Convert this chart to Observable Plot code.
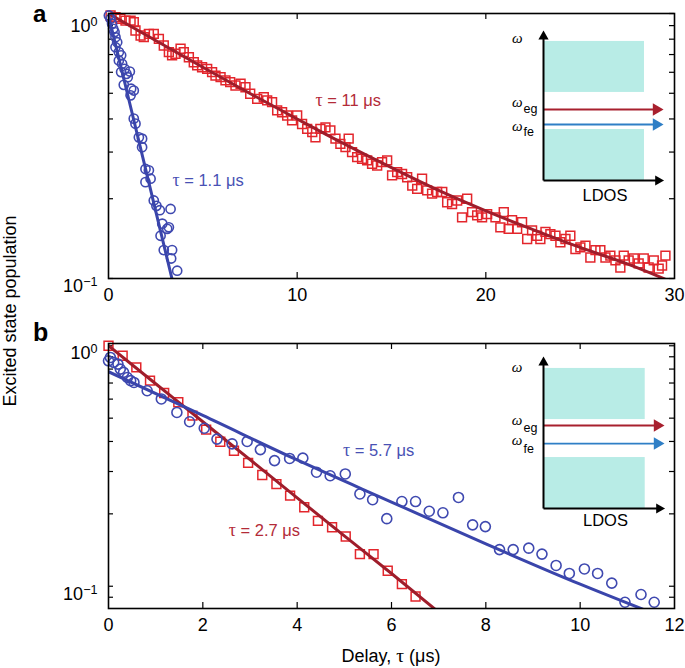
<!DOCTYPE html>
<html><head><meta charset="utf-8">
<script src="https://cdn.jsdelivr.net/npm/d3@7"></script>
<script src="https://cdn.jsdelivr.net/npm/@observablehq/plot@0.6"></script>
<style>
body{margin:0;background:#fff;}
#fig{position:relative;width:685px;height:668px;overflow:hidden;background:#fff;}
#fig svg{position:absolute;}
</style></head><body><div id="fig"></div>
<script>
// ---------- Panel a data ----------
const aRedT = [0.11,0.37,0.63,0.90,1.17,1.34,1.43,1.70,1.87,2.14,2.40,2.67,2.93,3.20,3.37,3.55,3.82,3.99,4.26,4.52,4.70,4.96,5.23,5.49,5.67,5.94,6.20,6.45,6.73,7.00,7.26,7.51,7.88,8.23,8.41,8.67,8.94,9.20,9.47,9.73,10.00,10.26,10.53,10.80,10.97,11.23,11.50,11.76,12.03,12.29,12.56,12.73,12.91,13.18,13.44,13.71,13.97,14.24,14.50,14.77,15.03,15.30,15.56,15.83,16.10,16.36,16.62,16.89,17.15,17.42,17.69,17.95,18.21,18.48,18.74,19.01,19.27,19.54,19.80,20.07,20.51,20.77,20.95,21.21,21.39,21.66,21.92,22.19,22.45,22.72,22.89,23.16,23.42,23.69,23.95,24.22,24.48,24.75,25.01,25.28,25.54,25.81,26.07,26.34,26.60,26.87,27.13,27.31,27.57,27.84,28.10,28.37,28.63,28.90,29.16,29.34,29.52];
const aRedV = [0.983,0.968,0.955,0.940,0.940,0.928,0.863,0.826,0.814,0.838,0.838,0.802,0.757,0.715,0.695,0.705,0.736,0.715,0.684,0.655,0.637,0.627,0.618,0.601,0.583,0.575,0.559,0.551,0.535,0.543,0.527,0.498,0.476,0.483,0.470,0.463,0.431,0.424,0.412,0.395,0.412,0.383,0.367,0.357,0.341,0.367,0.372,0.362,0.337,0.322,0.313,0.337,0.300,0.287,0.283,0.279,0.271,0.267,0.275,0.279,0.245,0.252,0.248,0.241,0.224,0.218,0.238,0.215,0.209,0.212,0.212,0.194,0.191,0.197,0.170,0.200,0.178,0.173,0.170,0.175,0.170,0.156,0.178,0.154,0.166,0.154,0.163,0.141,0.152,0.145,0.141,0.150,0.147,0.145,0.137,0.141,0.145,0.129,0.131,0.133,0.120,0.128,0.128,0.120,0.122,0.117,0.110,0.122,0.117,0.119,0.114,0.119,0.110,0.117,0.109,0.112,0.122];
const aBlueT = [0.02,0.11,0.19,0.25,0.32,0.37,0.37,0.46,0.55,0.55,0.67,0.67,0.72,0.81,0.85,0.95,1.02,1.13,1.17,1.20,1.34,1.34,1.43,1.61,1.78,1.78,1.96,1.96,2.14,2.23,2.40,2.54,2.72,2.76,2.85,2.93,3.11,3.20,3.29,3.32,3.37,3.64];
const aBlueV = [0.983,0.955,0.914,0.875,0.851,0.814,0.746,0.779,0.715,0.665,0.695,0.601,0.646,0.538,0.618,0.592,0.575,0.604,0.491,0.520,0.512,0.401,0.384,0.341,0.337,0.313,0.259,0.231,0.256,0.238,0.197,0.188,0.181,0.145,0.161,0.128,0.154,0.156,0.183,0.119,0.128,0.107];
const aRedFitT = [0,2.5,5,7.5,10,12.5,15,17.5,20,22.5,25,27.5,29.5];
const aRedFitV = [1,0.791,0.627,0.499,0.400,0.322,0.262,0.215,0.180,0.153,0.131,0.1135,0.0995];
const aBlueFitT = [0,1,2,3,3.5];
const aBlueFitV = [0.983,0.499,0.253,0.128,0.091];
const aXTicks = [0,10,20,30];
const aYMajor = [0.1,1];
const aYMinor = [0.2,0.3,0.4,0.5,0.6,0.7,0.8,0.9];
const aNoteT = [3.39,10.97];
const aNoteV = [0.234,0.469];
const aNoteText = ["τ = 1.1 μs","τ = 11 μs"];

// ---------- Panel b data ----------
const bRedT = [0,0.30,0.59,0.88,1.18,1.48,1.78,2.07,2.37,2.66,2.96,3.26,3.56,3.85,4.15,4.44,4.74,5.03,5.33,5.62,5.92,6.22,6.51];
const bRedV = [1.0,0.909,0.813,0.716,0.636,0.582,0.512,0.448,0.399,0.366,0.326,0.290,0.266,0.238,0.213,0.187,0.176,0.161,0.136,0.136,0.116,0.102,0.0906];
const bBlueT = [0,0.04,0.11,0.20,0.25,0.32,0.40,0.47,0.54,0.82,1.12,1.45,1.72,2.03,2.30,2.62,2.94,3.22,3.52,3.84,4.12,4.41,4.70,5.02,5.33,5.60,5.90,6.22,6.51,6.80,7.09,7.42,7.72,7.99,8.29,8.58,8.91,9.19,9.49,9.77,10.09,10.37,10.67,10.95,11.29,11.57];
const bBlueV = [0.866,0.894,0.853,0.839,0.800,0.775,0.738,0.716,0.704,0.650,0.601,0.528,0.483,0.454,0.409,0.391,0.400,0.370,0.333,0.340,0.341,0.298,0.288,0.293,0.242,0.229,0.191,0.225,0.225,0.205,0.202,0.234,0.180,0.177,0.142,0.142,0.144,0.136,0.122,0.113,0.118,0.113,0.103,0.0858,0.0924,0.0858];
const bRedFitT = [0,1,2,3,4,5,6,7];
const bRedFitV = [1.0,0.695,0.483,0.336,0.233,0.162,0.113,0.078];
const bBlueFitT = [0,2,4,6,8,10,11.6];
const bBlueFitV = [0.780,0.513,0.335,0.224,0.150,0.102,0.0765];
const bXTicks = [0,2,4,6,8,10,12];
const bYMajor = [0.1,1];
const bYMinor = [0.09,0.2,0.3,0.4,0.5,0.6,0.7,0.8,0.9];
const bNoteT = [4.97,2.55];
const bNoteV = [0.366,0.170];
const bNoteText = ["τ = 5.7 μs","τ = 2.7 μs"];

// ---------- Inset schematics (normalized units) ----------
const insetABands = [{x1:0,x2:0.863,y1:0.599,y2:0.946},{x1:0,x2:0.863,y1:0,y2:0.347}];
const insetAArrowY = [0.483,0.381];
const insetBBands = [{x1:0,x2:0.862,y1:0.597,y2:0.94},{x1:0,x2:0.862,y1:0,y2:0.342}];
const insetBArrowY = [0.557,0.436];
const insetASymY = [0.966,0.531,0.367];
const insetASubY = [0.483,0.327];
const insetBSymY = [0.948,0.591,0.461];
const insetBSubY = [0.537,0.40];
const insetSubText = ["eg","fe"];

// ---------- styling ----------
const W = 685;
const FONT = '"Liberation Sans", Arial, Helvetica, sans-serif';
const SERIF = '"Liberation Serif", "DejaVu Serif", serif';
const RED_PT = "#e3262c", RED_LINE = "#9f1d2b", RED_TXT = "#b32b38";
const BLUE_PT = "#3f49b0", BLUE_LINE = "#3a45ab", BLUE_TXT = "#4851b4";
const CYAN = "#b8ece6", ARROW_RED = "#a8202e", ARROW_BLUE = "#2f7fc6";

const pts = (T, V) => T.map((t, i) => ({t, v: V[i]}));

function panel(cfg) {
  const mL = 108, mR = 11;
  const innerW = W - mL - mR;
  const innerH = cfg.height - cfg.marginTop - cfg.marginBottom;
  const interiorX = cfg.xTicks.slice(1, -1);
  const yAll = [...cfg.yMajor, ...cfg.yMinor];
  const notes = cfg.noteT.map((t, i) => ({t, v: cfg.noteV[i], label: cfg.noteText[i], color: cfg.noteColor[i]}));
  return Plot.plot({
    width: W, height: cfg.height,
    marginLeft: mL, marginRight: mR, marginTop: cfg.marginTop, marginBottom: cfg.marginBottom,
    style: {fontFamily: FONT, fontSize: "18px", background: "transparent", color: "#000", overflow: "visible"},
    x: {domain: cfg.xDomain},
    y: {type: "log", domain: cfg.yDomain},
    color: {type: "identity"},
    marks: [
      Plot.axisX(cfg.xTicks, {tickSize: 0, tickPadding: 10, fontSize: 18, label: null, tickFormat: d => String(d)}),
      Plot.axisY(cfg.yMajor, {tickSize: 0, tickPadding: 11, fontSize: 18, label: null, tickFormat: d => d >= 1 ? "10^0" : "10^\u22121"}),
      Plot.tickX(interiorX, {x: d => d, insetTop: innerH - 6, strokeWidth: 1.2, stroke: "#000"}),
      Plot.tickX(interiorX, {x: d => d, insetBottom: innerH - 6, strokeWidth: 1.2, stroke: "#000"}),
      Plot.tickY(yAll, {y: d => d, insetRight: innerW - 5, strokeWidth: 1.2, stroke: "#000"}),
      Plot.tickY(yAll, {y: d => d, insetLeft: innerW - 5, strokeWidth: 1.2, stroke: "#000"}),
      Plot.dot(pts(cfg.redT, cfg.redV), {x: "t", y: "v", symbol: "square", r: 5, stroke: RED_PT, strokeWidth: 1.5, fill: "none"}),
      Plot.line(pts(cfg.redFitT, cfg.redFitV), {x: "t", y: "v", stroke: RED_LINE, strokeWidth: 3, curve: "monotone-x", clip: true}),
      Plot.dot(pts(cfg.blueT, cfg.blueV), {x: "t", y: "v", symbol: "circle", r: cfg.circR, stroke: BLUE_PT, strokeWidth: 1.6, fill: "none"}),
      Plot.line(pts(cfg.blueFitT, cfg.blueFitV), {x: "t", y: "v", stroke: BLUE_LINE, strokeWidth: 3, curve: "monotone-x", clip: true}),
      Plot.text(notes, {x: "t", y: "v", text: "label", fill: "color", textAnchor: "start", fontSize: 16.5}),
      Plot.frame({stroke: "#000", strokeWidth: 1.6})
    ]
  });
}

function inset(cfg) {
  const arrows = cfg.arrowY.map((y, i) => ({x1: 0, x2: 0.965, y, color: i === 0 ? ARROW_RED : ARROW_BLUE}));
  const axesL = [{x1: 0, y1: 0, x2: 0, y2: 0.98}, {x1: 0, y1: 0, x2: 0.98, y2: 0}];
  const heads = [{x: 0, y: 0.98, rot: 0}, {x: 0.98, y: 0, rot: 90}];
  const syms = cfg.symY.map(y => ({x: -0.225, y}));
  const subs = cfg.subY.map((y, i) => ({x: -0.17, y, s: insetSubText[i]}));
  return Plot.plot({
    width: 200, height: cfg.height, marginLeft: 63, marginRight: cfg.mr, marginTop: 13, marginBottom: 40,
    x: {domain: [0, 1], axis: null}, y: {domain: [0, 1], axis: null},
    style: {background: "transparent", overflow: "visible", fontFamily: FONT},
    color: {type: "identity"},
    marks: [
      Plot.rect(cfg.bands, {x1: "x1", x2: "x2", y1: "y1", y2: "y2", fill: CYAN}),
      Plot.link(arrows, {x1: "x1", x2: "x2", y1: "y", y2: "y", stroke: "color", strokeWidth: 1.8}),
      Plot.dot(arrows, {x: "x2", y: "y", symbol: "triangle", rotate: 90, r: 4.6, fill: "color", stroke: "none"}),
      Plot.link(axesL, {x1: "x1", y1: "y1", x2: "x2", y2: "y2", stroke: "#000", strokeWidth: 2}),
      Plot.dot(heads, {x: "x", y: "y", rotate: "rot", symbol: "triangle", r: 3.8, fill: "#000", stroke: "none"}),
      Plot.text(syms, {x: "x", y: "y", text: () => "ω", fontFamily: SERIF, fontStyle: "italic", fontSize: 15, fill: "#000"}),
      Plot.text(subs, {x: "x", y: "y", text: "s", textAnchor: "start", fontSize: 12.5, fill: "#000"}),
      Plot.text([{x: 0.525, y: cfg.ldosY}], {x: "x", y: "y", text: () => "LDOS", fontSize: 16.5, fill: "#000"})
    ]
  });
}

function postProcess(svg, topDy) {
  d3.select(svg).selectAll("text").each(function() {
    const t = this.textContent;
    const m = /^10\^(.+)$/.exec(t);
    const el = d3.select(this);
    if (m && this.children.length === 0) {
      el.text("");
      el.attr("dy", (m[1] === "0" && topDy != null) ? topDy : "7.8px");
      el.append("tspan").text("10");
      el.append("tspan").attr("dy", "-0.48em").attr("font-size", "0.7em").text(m[1]);
    } else if (t.includes("τ") && this.children.length === 0) {
      el.text("");
      t.split(/(τ)/).forEach(p => {
        if (!p) return;
        const ts = el.append("tspan").text(p);
        if (p === "τ") ts.attr("font-family", SERIF).attr("font-size", "1.08em");
      });
    }
  });
}

const fig = document.getElementById("fig");

const svgA = panel({
  height: 305, marginTop: 13, marginBottom: 27,
  xDomain: [0, 30], yDomain: [0.1, 1], xTicks: aXTicks, yMajor: aYMajor, yMinor: aYMinor,
  redT: aRedT, redV: aRedV, redFitT: aRedFitT, redFitV: aRedFitV,
  blueT: aBlueT, blueV: aBlueV, blueFitT: aBlueFitT, blueFitV: aBlueFitV, circR: 4.6,
  noteT: aNoteT, noteV: aNoteV, noteText: aNoteText, noteColor: [BLUE_TXT, RED_TXT]
});
svgA.style.left = "0px"; svgA.style.top = "0px";
postProcess(svgA, "12.8px");
fig.appendChild(svgA);

const svgB = panel({
  height: 320, marginTop: 23, marginBottom: 32,
  xDomain: [0, 12], yDomain: [0.0808, 1.022], xTicks: bXTicks, yMajor: bYMajor, yMinor: bYMinor,
  redT: bRedT, redV: bRedV, redFitT: bRedFitT, redFitV: bRedFitV,
  blueT: bBlueT, blueV: bBlueV, blueFitT: bBlueFitT, blueFitV: bBlueFitV, circR: 5,
  noteT: bNoteT, noteV: bNoteV, noteText: bNoteText, noteColor: [BLUE_TXT, RED_TXT]
});
svgB.style.left = "0px"; svgB.style.top = "320px";
postProcess(svgB, null);
fig.appendChild(svgB);

const insA = inset({height: 200, mr: 20, bands: insetABands, arrowY: insetAArrowY, symY: insetASymY, subY: insetASubY, ldosY: -0.102});
insA.style.left = "480px"; insA.style.top = "20px";
fig.appendChild(insA);

const insB = inset({height: 202, mr: 19, bands: insetBBands, arrowY: insetBArrowY, symY: insetBSymY, subY: insetBSubY, ldosY: -0.081});
insB.style.left = "480px"; insB.style.top = "346px";
fig.appendChild(insB);

// Overlay: panel letters and axis titles
const ov = d3.create("svg").attr("width", W).attr("height", 668)
  .style("left", "0px").style("top", "0px").style("pointer-events", "none")
  .attr("font-family", FONT);
ov.append("text").attr("x", 33).attr("y", 22).attr("font-size", 24).attr("font-weight", "bold").text("a");
ov.append("text").attr("x", 33).attr("y", 341).attr("font-size", 25).attr("font-weight", "bold").text("b");
ov.append("text").attr("transform", "translate(16,311) rotate(-90)").attr("text-anchor", "middle").attr("font-size", 18).text("Excited state population");
const xt = ov.append("text").attr("x", 391).attr("y", 662).attr("text-anchor", "middle").attr("font-size", 18);
xt.append("tspan").text("Delay, ");
xt.append("tspan").attr("font-family", SERIF).attr("font-size", "1.08em").text("τ");
xt.append("tspan").text(" (μs)");
fig.appendChild(ov.node());
</script></body></html>
